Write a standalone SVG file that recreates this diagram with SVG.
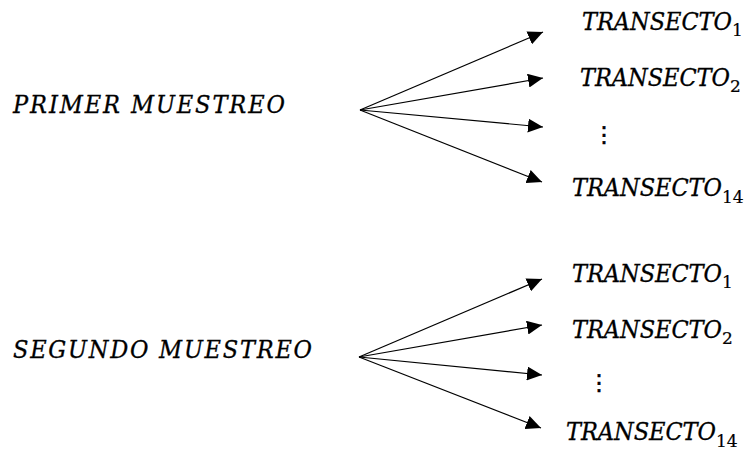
<svg xmlns="http://www.w3.org/2000/svg" width="752" height="453" viewBox="0 0 752 453">
<style>
.lbl{font-family:"DejaVu Serif Condensed","DejaVu Serif","Liberation Serif",serif;font-style:italic;font-size:25px;fill:#000;stroke:#000;stroke-width:0.3}
.sub{font-family:"DejaVu Serif","Liberation Serif",serif;font-size:17px;font-style:normal;stroke-width:0.2}
.dots{font-family:"DejaVu Sans",sans-serif;font-size:22px;fill:#000;stroke:#000;stroke-width:0.6}
.conn line{stroke:#000;stroke-width:1.2;marker-end:url(#ah)}
</style>
<defs>
<marker id="ah" markerUnits="userSpaceOnUse" markerWidth="16" markerHeight="14" refX="15" refY="7" orient="auto">
<path d="M0,0 L15,7 L0,14 Z" fill="#000"/>
</marker>
</defs>
<rect width="752" height="453" fill="#fff"/>
<g id="primer"><text class="lbl" x="13" y="113" textLength="272" lengthAdjust="spacing">PRIMER MUESTREO</text></g>
<g id="segundo"><text class="lbl" x="13" y="358" textLength="299" lengthAdjust="spacing">SEGUNDO MUESTREO</text></g>
<g id="p-t1"><text class="lbl" x="582" y="30"><tspan textLength="150" lengthAdjust="spacing">TRANSECTO</tspan><tspan class="sub" dy="6">1</tspan></text></g>
<g id="p-t2"><text class="lbl" x="580" y="86"><tspan textLength="150" lengthAdjust="spacing">TRANSECTO</tspan><tspan class="sub" dy="6">2</tspan></text></g>
<g id="p-dots"><text class="dots" x="593" y="142">⋮</text></g>
<g id="p-t14"><text class="lbl" x="572" y="196"><tspan textLength="150" lengthAdjust="spacing">TRANSECTO</tspan><tspan class="sub" dy="7">14</tspan></text></g>
<g id="s-t1"><text class="lbl" x="572" y="282"><tspan textLength="150" lengthAdjust="spacing">TRANSECTO</tspan><tspan class="sub" dy="6">1</tspan></text></g>
<g id="s-t2"><text class="lbl" x="572" y="338"><tspan textLength="150" lengthAdjust="spacing">TRANSECTO</tspan><tspan class="sub" dy="6">2</tspan></text></g>
<g id="s-dots"><text class="dots" x="588" y="390">⋮</text></g>
<g id="s-t14"><text class="lbl" x="566" y="440"><tspan textLength="150" lengthAdjust="spacing">TRANSECTO</tspan><tspan class="sub" dy="7">14</tspan></text></g>
<g id="connectors" class="conn">
<line x1="360" y1="110" x2="543" y2="32"/>
<line x1="360" y1="110" x2="543" y2="78"/>
<line x1="360" y1="110" x2="543" y2="127"/>
<line x1="360" y1="110" x2="542" y2="182"/>
<line x1="359" y1="357" x2="542" y2="279"/>
<line x1="359" y1="357" x2="542" y2="325"/>
<line x1="359" y1="357" x2="542" y2="375"/>
<line x1="359" y1="357" x2="541" y2="428"/>
</g>
</svg>
